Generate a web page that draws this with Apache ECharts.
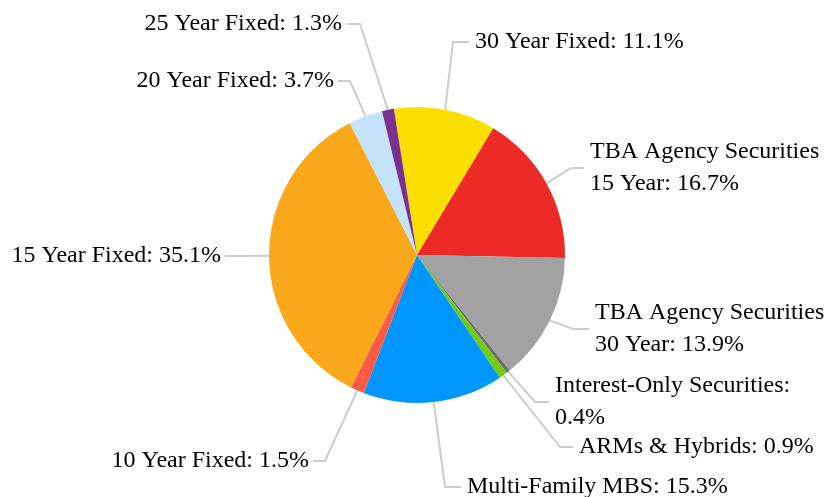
<!DOCTYPE html>
<html>
<head>
<meta charset="utf-8">
<script src="https://cdn.jsdelivr.net/npm/echarts@6/dist/echarts.min.js"></script>
<style>
  html, body { margin: 0; padding: 0; background: #fff; }
  #chart { width: 827px; height: 497px; }
</style>
</head>
<body>
<div id="chart"></div>
<script>
// portfolio composition, percent
const names = [
  "30 Year Fixed",
  "TBA Agency Securities\n15 Year",
  "TBA Agency Securities\n30 Year",
  "Interest-Only Securities",
  "ARMs & Hybrids",
  "Multi-Family MBS",
  "10 Year Fixed",
  "15 Year Fixed",
  "20 Year Fixed",
  "25 Year Fixed",
];
const values = [11.1, 16.7, 13.9, 0.4, 0.9, 15.3, 1.5, 35.1, 3.7, 1.3];
const colors = [
  "#FBDF00", "#EE2A27", "#A2A2A2", "#6B6B6B", "#74CB14",
  "#0096FF", "#FF5A45", "#F9A81C", "#C4E3FB", "#7B2F8E",
];
// names whose value goes on a new line after the colon
const wrapAfterColon = ["Interest-Only Securities"];

// label placement: text anchor x/y, side, and the elbow of the leader line
const labelPos = [
  { x: 475, y: 42, side: "left", turn: [453, 42] },
  { x: 590, y: 168, side: "left", turn: [571, 168] },
  { x: 595, y: 329, side: "left", turn: [573, 329] },
  { x: 555, y: 402, side: "left", turn: [535, 402] },
  { x: 579, y: 447, side: "left", turn: [560, 447] },
  { x: 467, y: 487, side: "left", turn: [445, 487] },
  { x: 309, y: 461, side: "right", turn: [325, 461] },
  { x: 221, y: 256, side: "right", turn: [245, 256] },
  { x: 334, y: 81, side: "right", turn: [350, 81] },
  { x: 342, y: 24, side: "right", turn: [360, 24] },
];

const chart = echarts.init(document.getElementById("chart"));

const option = {
  animation: false,
  textStyle: { fontFamily: "Liberation Serif" },
  series: [
    {
      type: "pie",
      center: [417, 255],
      radius: 148,
      startAngle: 99,
      clockwise: true,
      avoidLabelOverlap: false,
      itemStyle: { borderWidth: 0 },
      emphasis: { disabled: true },
      label: {
        show: true,
        position: "outside",
        color: "#000",
        fontFamily: "Liberation Serif",
        fontSize: 24,
        lineHeight: 32,
        formatter: (p) =>
          p.name + ":" + (wrapAfterColon.includes(p.name) ? "\n" : " ") + p.value + "%",
      },
      labelLine: {
        show: true,
        smooth: false,
        lineStyle: { color: "#CCCCCC", width: 2 },
      },
      labelLayout: (params) => {
        const lp = labelPos[params.dataIndex];
        const start = params.labelLinePoints[0];
        const gap = lp.side === "left" ? -6 : 4;
        return {
          x: lp.x,
          y: lp.y,
          align: lp.side,
          verticalAlign: "middle",
          labelLinePoints: [start, lp.turn, [lp.x + gap, lp.y]],
        };
      },
      data: names.map((n, i) => ({
        name: n,
        value: values[i],
        itemStyle: { color: colors[i] },
      })),
    },
  ],
};

chart.setOption(option);
</script>
</body>
</html>
